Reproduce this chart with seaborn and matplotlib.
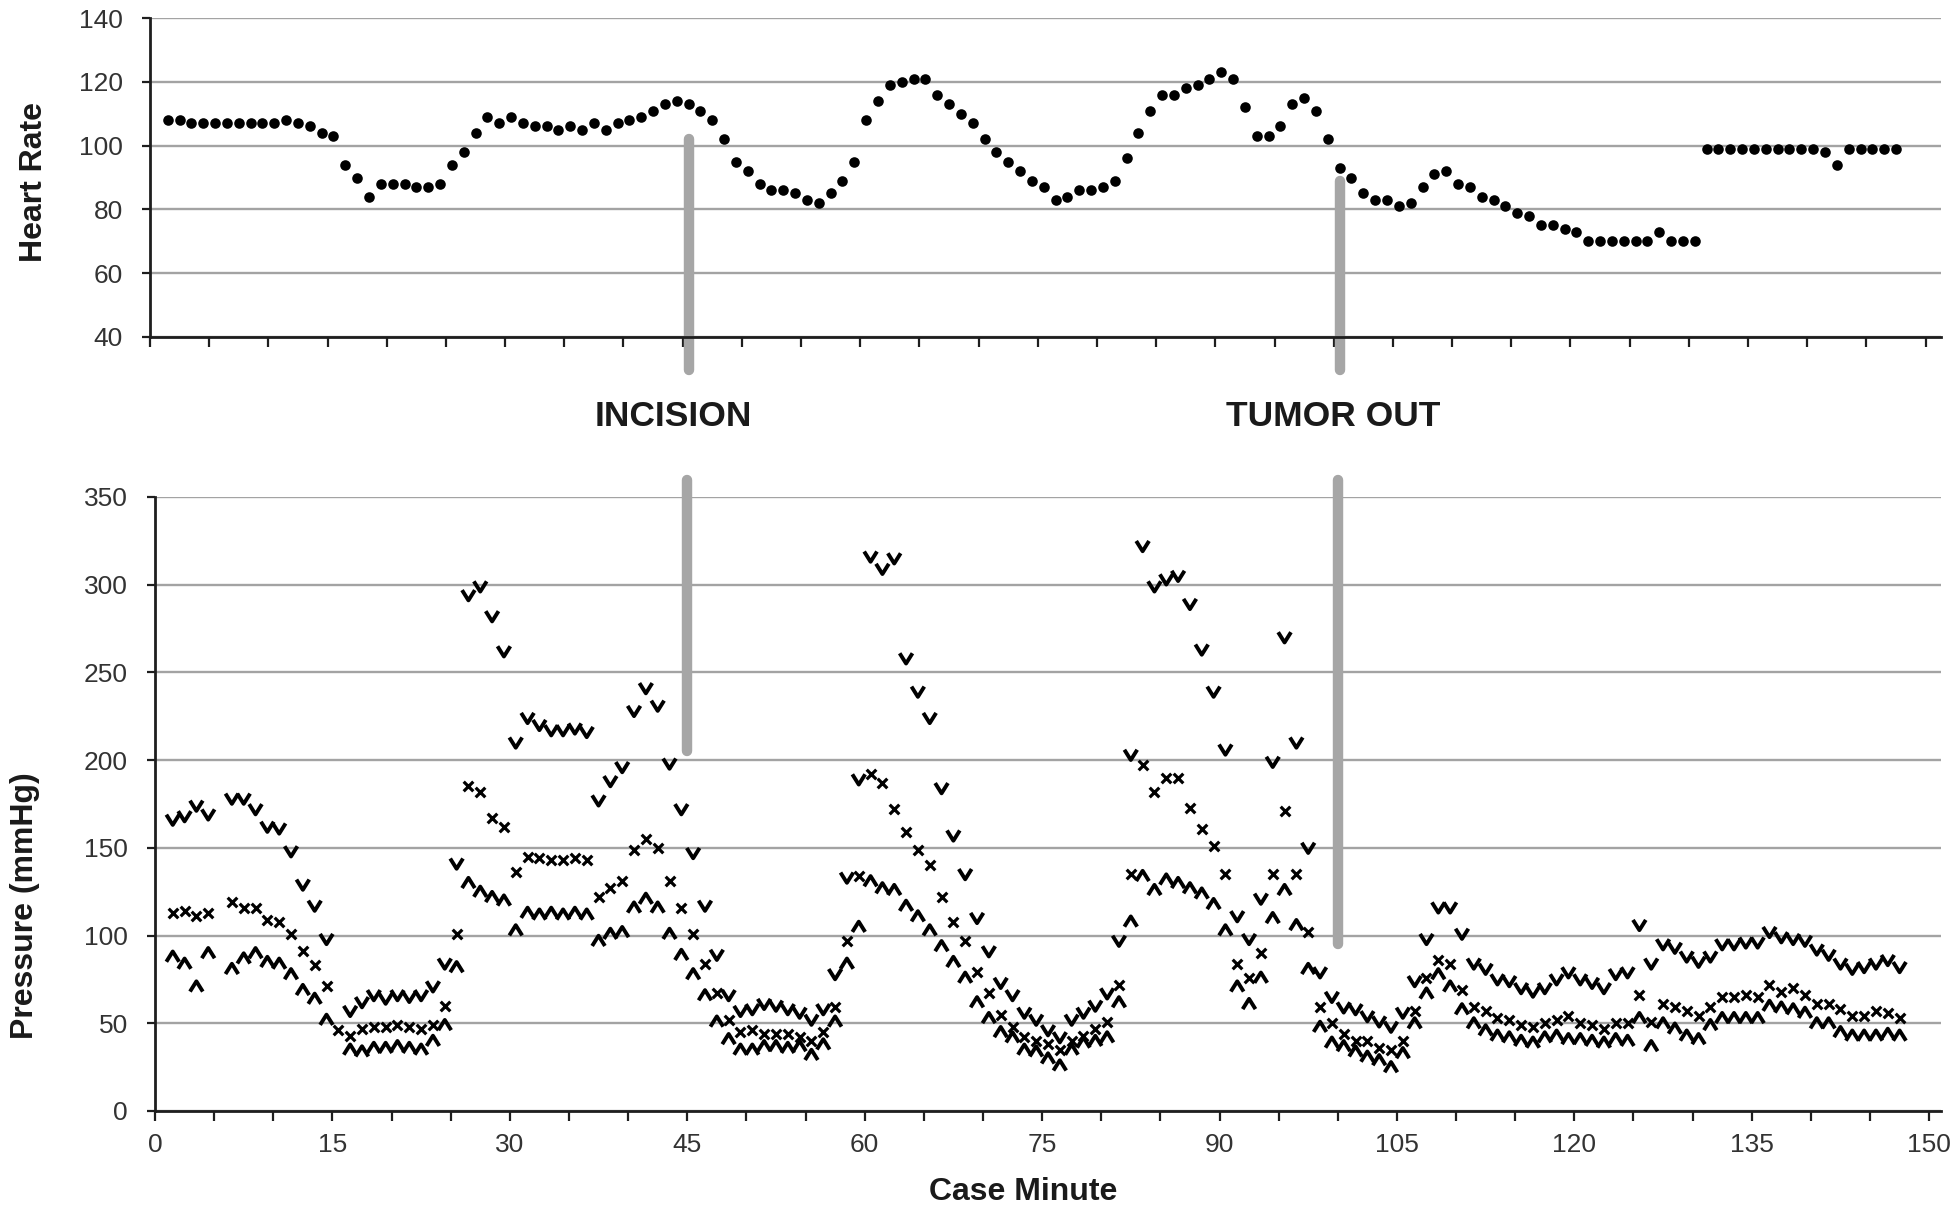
import numpy as np
import pandas as pd
import seaborn as sns
import matplotlib.pyplot as plt
from matplotlib.path import Path
from matplotlib import transforms

nan = np.nan

# Case minutes (one reading per minute)
case_minute = np.arange(1, 148)

heart_rate = [108, 108, 107, 107, 107, 107, 107, 107, 107, 107,
              108, 107, 106, 104, 103, 94, 90, 84, 88, 88,
              88, 87, 87, 88, 94, 98, 104, 109, 107, 109,
              107, 106, 106, 105, 106, 105, 107, 105, 107, 108,
              109, 111, 113, 114, 113, 111, 108, 102, 95, 92,
              88, 86, 86, 85, 83, 82, 85, 89, 95, 108,
              114, 119, 120, 121, 121, 116, 113, 110, 107, 102,
              98, 95, 92, 89, 87, 83, 84, 86, 86, 87,
              89, 96, 104, 111, 116, 116, 118, 119, 121, 123,
              121, 112, 103, 103, 106, 113, 115, 111, 102, 93,
              90, 85, 83, 83, 81, 82, 87, 91, 92, 88,
              87, 84, 83, 81, 79, 78, 75, 75, 74, 73,
              70, 70, 70, 70, 70, 70, 73, 70, 70, 70,
              99, 99, 99, 99, 99, 99, 99, 99, 99, 99,
              98, 94, 99, 99, 99, 99, 99]

systolic = [166, 168, 174, 169, nan, 178, 178, 172, 162, 161,
            148, 129, 117, 98, nan, 57, 62, 66, 64, 66,
            65, 66, 71, 84, 141, 294, 299, 282, 262, 210,
            224, 220, 217, 217, 218, 216, 177, 188, 196, 228,
            241, 231, 198, 172, 147, 117, 89, 66, 57, 58,
            61, 60, 58, 56, 52, 58, 78, 133, 189, 316,
            309, 315, 258, 239, 224, 184, 157, 135, 110, 91,
            73, 66, 56, 52, 46, 42, 52, 56, 60, 67,
            97, 203, 322, 299, 303, 305, 289, 263, 239, 206,
            111, 98, 121, 199, 270, 210, 150, 79, 65, 59,
            58, 54, 51, 48, 56, 74, 98, 116, 116, 101,
            84, 81, 75, 74, 70, 68, 70, 75, 79, 75,
            73, 70, 78, 79, 106, 84, 95, 93, 88, 85,
            88, 95, 95, 96, 96, 102, 99, 98, 97, 92,
            89, 84, 81, 82, 84, 86, 82]

mean_bp = [113, 114, 111, 113, nan, 119, 116, 116, 109, 108,
           101, 91, 83, 71, 46, 43, 47, 48, 48, 49,
           48, 47, 49, 60, 101, 185, 182, 167, 162, 136,
           145, 144, 143, 143, 144, 143, 122, 127, 131, 149,
           155, 150, 131, 116, 101, 84, 67, 52, 45, 46,
           44, 44, 44, 42, 40, 45, 59, 97, 134, 192,
           187, 172, 159, 149, 140, 122, 108, 97, 79, 67,
           55, 48, 42, 40, 38, 35, 40, 43, 47, 51,
           72, 135, 197, 182, 190, 190, 173, 161, 151, 135,
           84, 76, 90, 135, 171, 135, 102, 59, 50, 44,
           40, 40, 36, 35, 40, 57, 76, 86, 84, 69,
           59, 57, 53, 52, 49, 48, 50, 52, 54, 50,
           49, 47, 50, 50, 66, 51, 61, 59, 57, 54,
           59, 65, 65, 66, 65, 72, 68, 70, 66, 61,
           61, 58, 54, 54, 57, 56, 53]

diastolic = [88, 84, 71, 90, nan, 81, 87, 90, 85, 84,
             78, 69, 64, 52, nan, 35, 34, 36, 36, 37,
             36, 35, 40, 49, 82, 130, 125, 122, 120, 103,
             113, 112, 113, 112, 113, 112, 97, 101, 102, 116,
             121, 116, 101, 89, 78, 66, 51, 41, 35, 35,
             37, 37, 36, 37, 32, 38, 51, 84, 105, 131,
             127, 126, 117, 111, 103, 94, 85, 76, 62, 53,
             45, 42, 35, 34, 30, 26, 35, 39, 40, 42,
             62, 108, 134, 126, 132, 130, 127, 124, 118, 103,
             71, 61, 76, 110, 126, 106, 81, 48, 39, 37,
             34, 31, 29, 25, 33, 50, 67, 78, 71, 58,
             50, 46, 43, 42, 40, 39, 42, 43, 41, 41,
             40, 39, 41, 40, 53, 37, 50, 47, 43, 41,
             49, 53, 53, 53, 53, 60, 59, 58, 56, 50,
             50, 45, 43, 43, 43, 44, 43]

# surgical events
events = ['INCISION', 'TUMOR OUT']
event_minute = [45, 100]
event_hr_top = [102, 89]         # where the marker bar stops in the HR panel
event_bp_bottom = [205, 95]      # where the marker bar stops in the BP panel

hr_df = pd.DataFrame({'minute': case_minute, 'hr': heart_rate})
# BP readings sit at the middle of each minute
bp_df = pd.DataFrame({'minute': case_minute + 0.5, 'systolic': systolic,
                      'mean': mean_bp, 'diastolic': diastolic})

sns.set_style('white')
plt.rcParams['font.family'] = ['Liberation Sans', 'DejaVu Sans']

W, H = 1960, 1214
fig = plt.figure(figsize=(W / 100, H / 100), dpi=100)
ax1 = fig.add_axes([150 / W, 1 - 337 / H, 1791 / W, 319 / H])
ax2 = fig.add_axes([155 / W, 1 - 1111 / H, 1786 / W, 614 / H])

# heart rate dots
sns.scatterplot(data=hr_df, x='minute', y='hr', ax=ax1, color='black',
                s=58, linewidth=0, zorder=3)

# pressure: systolic 'v', mean 'x', diastolic '^'
v_mark = Path([(-1, 0.8), (0, -0.8), (1, 0.8)])
up_mark = Path([(-1, -0.8), (0, 0.8), (1, -0.8)])
sns.scatterplot(data=bp_df, x='minute', y='systolic', ax=ax2, marker=v_mark,
                s=85, facecolor='none', edgecolor='black', linewidth=2.8, zorder=3)
sns.scatterplot(data=bp_df, x='minute', y='mean', ax=ax2, marker='x',
                s=48, color='black', linewidth=2.3, zorder=3)
sns.scatterplot(data=bp_df, x='minute', y='diastolic', ax=ax2, marker=up_mark,
                s=85, facecolor='none', edgecolor='black', linewidth=2.8, zorder=3)

spine_col = '#1e1e1e'
for ax in (ax1, ax2):
    for side in ['top', 'right']:
        ax.spines[side].set_visible(False)
    for side in ['left', 'bottom']:
        ax.spines[side].set_linewidth(2)
        ax.spines[side].set_color(spine_col)
    ax.yaxis.grid(True, color='#a3a3a3', linewidth=1.7)
    ax.xaxis.grid(False)
    ax.set_axisbelow(True)
    ax.tick_params(axis='y', direction='out', length=6, width=1.6, color=spine_col,
                   labelsize=19, labelcolor='#333333', pad=13.5, left=True)
    ax.tick_params(axis='x', which='both', direction='out', length=7, width=1.6,
                   color=spine_col, labelsize=19, labelcolor='#333333', pad=8.5,
                   bottom=True)

# top panel
ax1.set_ylim(40, 140)
ax1.set_yticks(range(40, 141, 20))
ax1.set_xlim(-0.5, 150.8)
ax1.set_xticks(np.arange(-0.5, 151, 5))
ax1.set_xticklabels([])
ax1.set_xlabel('')
ax1.set_ylabel('Heart Rate', fontsize=23, fontweight='bold', color='#1a1a1a')
ax1.yaxis.set_label_coords(-0.0564, 0.486)

# bottom panel
ax2.set_ylim(0, 350)
ax2.set_yticks(range(0, 351, 50))
ax2.set_xlim(0, 151)
ax2.set_xticks(range(0, 151, 15))
ax2.set_xticks(range(0, 151, 5), minor=True)
ax2.set_xlabel('Case Minute', fontsize=23, fontweight='bold', color='#1a1a1a')
ax2.xaxis.set_label_coords(0.486, -0.1075)
ax2.set_ylabel('Pressure (mmHg)', fontsize=23, fontweight='bold', color='#1a1a1a')
ax2.yaxis.set_label_coords(-0.0644, 0.334)

# event bars crossing both panels + labels
bar_col = '#a6a6a6'
label_shift = [-1.2, -0.4]
for name, m, hr_top, bp_bot, dx in zip(events, event_minute, event_hr_top,
                                       event_bp_bottom, label_shift):
    ax1.axvline(m, ymin=-0.105, ymax=(hr_top - 40) / 100, color=bar_col, lw=7.5,
                solid_capstyle='round', clip_on=False, zorder=2)
    ax2.axvline(m, ymin=bp_bot / 350, ymax=1.027, color=bar_col, lw=7.5,
                solid_capstyle='round', clip_on=False, zorder=2)
    trans = transforms.blended_transform_factory(ax2.transData, fig.transFigure)
    ax2.text(m + dx, 1 - 417 / H, name, transform=trans, ha='center', va='center',
             fontsize=25.5, fontweight='bold', color='#1a1a1a')

fig.savefig('out.png', dpi=100)
